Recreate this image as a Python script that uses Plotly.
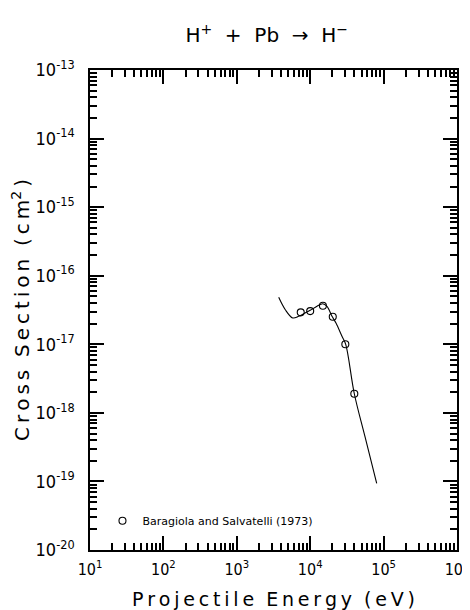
import plotly.graph_objects as go

# Experimental data: Baragiola and Salvatelli (1973)
data_energy = [7430, 10000, 14900, 20300, 30100, 39900]
data_sigma = [2.92e-17, 3.05e-17, 3.65e-17, 2.52e-17, 1.0e-17, 1.9e-18]

# Recommended fit curve
fit_energy = [3724, 4581, 5777, 6970, 8500, 10000, 12380, 14790, 16940, 19820,
              22450, 27100, 30470, 39900, 55800, 80500]
fit_sigma = [4.84e-17, 3.19e-17, 2.42e-17, 2.56e-17, 2.85e-17, 3.13e-17, 3.58e-17,
             3.91e-17, 3.58e-17, 2.56e-17, 2.04e-17, 1.31e-17, 1.0e-17, 1.9e-18,
             4.49e-19, 9.4e-20]

x_tickvals = [1e1, 1e2, 1e3, 1e4, 1e5, 1e6]
x_ticktext = ["10<sup>1</sup>", "10<sup>2</sup>", "10<sup>3</sup>", "10<sup>4</sup>",
              "10<sup>5</sup>", "10<sup>6</sup>"]
y_tickvals = [1e-20, 1e-19, 1e-18, 1e-17, 1e-16, 1e-15, 1e-14, 1e-13]
y_ticktext = ["10<sup>-20</sup>", "10<sup>-19</sup>", "10<sup>-18</sup>", "10<sup>-17</sup>",
              "10<sup>-16</sup>", "10<sup>-15</sup>", "10<sup>-14</sup>", "10<sup>-13</sup>"]
minor_digits = [2, 3, 4, 5, 6, 7, 8, 9]

FONT = "DejaVu Sans"
TICKFONT = "Liberation Sans Narrow, DejaVu Sans Condensed, DejaVu Sans"
ts = "\u2009"


def spaced(s):
    return ts.join(list(s))


def minor_vals(decades):
    return [d * m for d in decades[:-1] for m in minor_digits]


fig = go.Figure()
fig.add_trace(go.Scatter(
    x=fit_energy, y=fit_sigma, mode="lines",
    line=dict(color="black", width=1.1, shape="spline", smoothing=1.0),
    showlegend=False, hoverinfo="skip"))
fig.add_trace(go.Scatter(
    x=data_energy, y=data_sigma, mode="markers",
    marker=dict(symbol="circle-open", size=7, color="black", line=dict(width=1.1)),
    name="Baragiola and Salvatelli (1973)", showlegend=True))

fig.update_xaxes(
    type="log", range=[1, 6], showline=True, linecolor="black", linewidth=1.5, mirror="ticks",
    ticks="inside", ticklen=14, tickwidth=1.5, tickcolor="rgb(0,0,0)",
    tickmode="array", tickvals=x_tickvals, ticktext=x_ticktext,
    tickfont=dict(family=TICKFONT, size=16, color="black"),
    ticklabeloverflow="allow", ticklabelstandoff=4, automargin=False,
    minor=dict(ticks="inside", ticklen=7, tickwidth=1.5, tickcolor="rgb(0,0,0)",
               tickmode="array", tickvals=minor_vals(x_tickvals)),
    title=dict(text=spaced("Projectile") + "  " + spaced("Energy") + "  " + spaced("(eV)"),
               font=dict(family=FONT, size=19, color="black")))
fig.update_yaxes(
    type="log", range=[-20, -13], showline=True, linecolor="black", linewidth=1.5, mirror="ticks",
    ticks="inside", ticklen=14, tickwidth=1.5, tickcolor="rgb(0,0,0)",
    tickmode="array", tickvals=y_tickvals, ticktext=y_ticktext,
    tickfont=dict(family=TICKFONT, size=18, color="black"),
    ticklabelstandoff=10, automargin=False,
    minor=dict(ticks="inside", ticklen=7, tickwidth=1.5, tickcolor="rgb(0,0,0)",
               tickmode="array", tickvals=minor_vals(y_tickvals)),
    title=dict(text=spaced("Cross") + "  " + spaced("Section") + "  " + ts.join(["(", "c", "m<sup>2</sup>", ")"]),
               font=dict(family=FONT, size=20, color="black")))

fig.update_layout(
    width=462, height=602,
    margin=dict(l=82, r=13, t=62, b=60),
    paper_bgcolor="white", plot_bgcolor="white",
    title=dict(text="H<sup>+</sup>  +  Pb  →  H<sup>−</sup>", x=0.56, xanchor="center",
               y=0.955, yanchor="middle",
               font=dict(family=FONT, size=20, color="black")),
    legend=dict(x=0.034, y=0.061, xanchor="left", yanchor="middle",
                bgcolor="rgba(0,0,0,0)", font=dict(family=FONT, size=11, color="black"),
                itemwidth=30),
)

fig.write_html("out.html")
